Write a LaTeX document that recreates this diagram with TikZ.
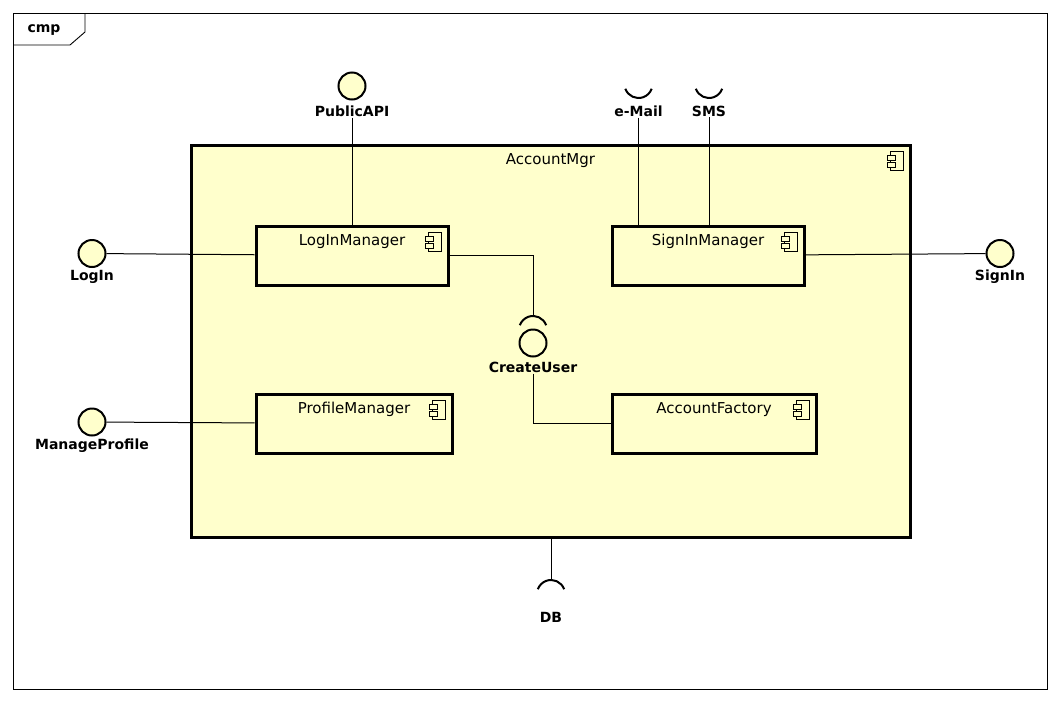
\documentclass[tikz,border=0pt]{standalone}
\usepackage{fontspec}
\setmainfont{DejaVu Sans}
\usepackage{xcolor}
\usepackage{tikz}
\usetikzlibrary{positioning,calc}

\definecolor{umlyellow}{HTML}{FFFFCC}

\tikzset{
  comp/.style={draw,line width=3pt,fill=umlyellow,minimum height=59pt,inner sep=0pt},
  ball/.style={circle,draw,line width=2pt,fill=umlyellow,minimum size=27pt,inner sep=0pt},
  iflabel/.style={font=\fontsize{14}{16}\selectfont\bfseries,inner sep=1pt},
  wire/.style={line width=1pt},
  sock/.style={line width=2pt},
  cicon/.pic={
    \draw[line width=0.9pt,fill=umlyellow] (-13,0) rectangle (0,19);
    \draw[line width=0.9pt,fill=umlyellow] (-16,4) rectangle (-8,9);
    \draw[line width=0.9pt,fill=umlyellow] (-16,11) rectangle (-8,16);
  }
}

\begin{document}
\begin{tikzpicture}[x=1pt,y=-1pt,font=\fontsize{15}{17}\selectfont]
\useasboundingbox (0,0) rectangle (1060,702);

% frame
\draw[line width=0.9pt] (13,13) rectangle (1047,689);
\draw[line width=0.9pt] (13,45) -- (70,45) -- (85,32) -- (85,13);
\node[iflabel] (cmp) at (44,30) {cmp};

% components
\node[comp,minimum width=719pt,minimum height=392pt] (acc) at (550.5,341) {};
\node (accT) at ([yshift=-17pt]acc.north) {AccountMgr};
\pic at ([xshift=-8pt,yshift=-8pt]acc.north east) {cicon};

\node[comp,minimum width=192pt] (lm) at (352,255.5) {};
\node (lmT) at ([yshift=-17pt]lm.north) {LogInManager};
\pic at ([xshift=-8pt,yshift=-8pt]lm.north east) {cicon};

\node[comp,minimum width=192pt] (sm) at (708,255.5) {};
\node (smT) at ([yshift=-17pt]sm.north) {SignInManager};
\pic at ([xshift=-8pt,yshift=-8pt]sm.north east) {cicon};

\node[comp,minimum width=196pt] (pm) at (354,423.5) {};
\node (pmT) at ([yshift=-17pt]pm.north) {ProfileManager};
\pic at ([xshift=-8pt,yshift=-8pt]pm.north east) {cicon};

\node[comp,minimum width=204pt] (af) at (714,423.5) {};
\node (afT) at ([yshift=-17pt]af.north) {AccountFactory};
\pic at ([xshift=-8pt,yshift=-8pt]af.north east) {cicon};

% provided interfaces
\node[ball] (pub) at (352,86) {};
\node[iflabel] (pubL) at (352,111) {PublicAPI};
\node[ball] (logIn) at (92,253.5) {};
\node[iflabel] (logInL) at (92,277) {LogIn};
\node[ball] (signIn) at (1000,253.5) {};
\node[iflabel] (signInL) at (1000,277) {SignIn};
\node[ball] (mp) at (92,422) {};
\node[iflabel] (mpL) at (92,446) {ManageProfile};
\node[ball] (cu) at (533,343) {};
\node[iflabel] (cuL) at (533,367) {CreateUser};

% required interfaces
\coordinate (mailS) at (638.5,98);
\node[iflabel] (mailL) at (638.5,111) {e-Mail};
\coordinate (smsS) at (709,98);
\node[iflabel] (smsL) at (709,111) {SMS};
\coordinate (cuS) at (533,316);
\coordinate (dbS) at (551,580);
\node[iflabel] (dbL) at (551,617) {DB};

\draw[sock] ([yshift=14pt]mailS) ++(200:14pt) arc (200:340:14pt);
\draw[sock] ([yshift=14pt]smsS) ++(200:14pt) arc (200:340:14pt);
\draw[sock] ([yshift=-14pt]cuS) ++(20:14pt) arc (20:160:14pt);
\draw[sock] ([yshift=-14pt]dbS) ++(20:14pt) arc (20:160:14pt);

% connectors
\draw[wire] (pubL.south) -- (pubL.south |- lm.north);
\draw[wire] (mailL.south) -- (mailL.south |- sm.north);
\draw[wire] (smsL.south) -- (smsL.south |- sm.north);
\draw[wire] (logIn) -- (lm);
\draw[wire] (sm) -- (signIn);
\draw[wire] (mp) -- (pm);
\draw[wire] (lm.east) -| (cuS);
\draw[wire] (cuL.south) |- (af.west);
\draw[wire] (dbS |- acc.south) -- (dbS);
\end{tikzpicture}
\end{document}
